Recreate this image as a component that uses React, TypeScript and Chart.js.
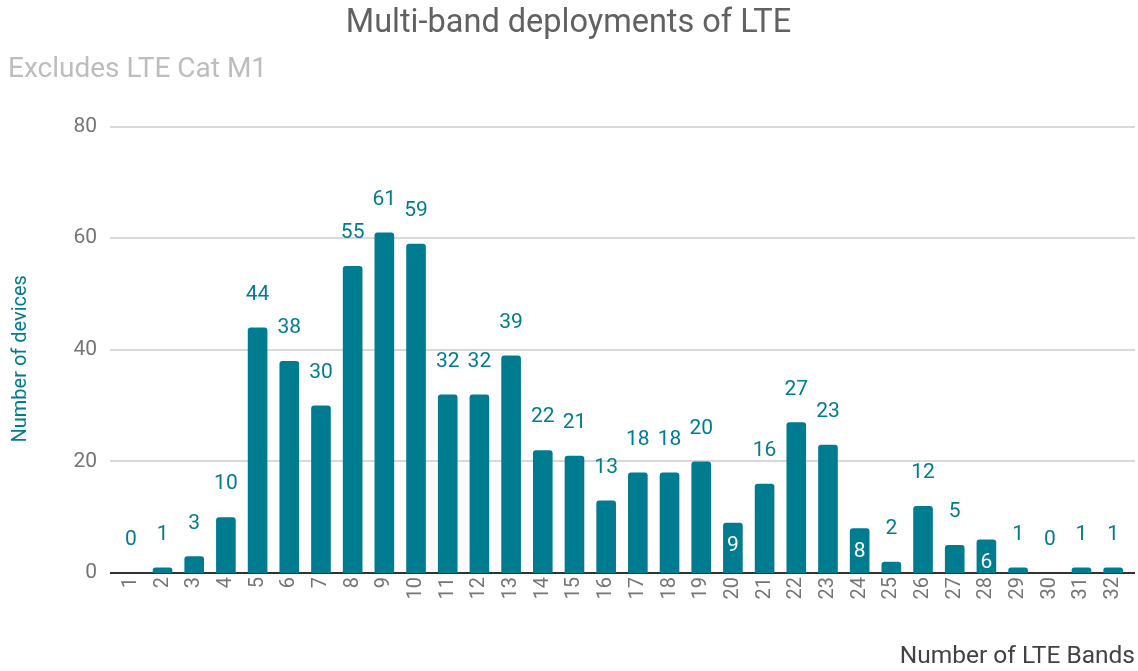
import React, { useEffect, useRef } from "react";
import { Chart, registerables } from "chart.js";

Chart.register(...registerables);

const categories = Array.from({ length: 32 }, (_, i) => String(i + 1));
const devices = [0, 1, 3, 10, 44, 38, 30, 55, 61, 59, 32, 32, 39, 22, 21, 13, 18, 18, 20, 9, 16, 27, 23, 8, 2, 12, 5, 6, 1, 0, 1, 1];
const insideLabelCategories = ["20", "24", "28"];
const yTicks = [0, 20, 40, 60, 80];

const TITLE = "Multi-band deployments of LTE";
const SUBTITLE = "Excludes LTE Cat M1";
const X_TITLE = "Number of LTE Bands";
const Y_TITLE = "Number of devices";

const TEAL = "#007c91";
const FONT = "Roboto";

const decorPlugin = {
  id: "decor",
  beforeDatasetsDraw(chart: any) {
    const ctx = chart.ctx;
    const y = chart.scales.y;
    ctx.save();
    yTicks.forEach((v) => {
      const py = Math.round(y.getPixelForValue(v));
      ctx.beginPath();
      ctx.strokeStyle = v === 0 ? "#333333" : "#cccccc";
      ctx.lineWidth = v === 0 ? 2 : 1.5;
      ctx.moveTo(110, py);
      ctx.lineTo(chart.width - 3, py);
      ctx.stroke();
    });
    ctx.restore();
  },
  afterDraw(chart: any) {
    const ctx = chart.ctx;
    const area = chart.chartArea;
    ctx.save();
    // x-axis title
    ctx.font = `24.5px ${FONT}`;
    ctx.fillStyle = "#424242";
    ctx.textAlign = "right";
    ctx.textBaseline = "middle";
    ctx.fillText(X_TITLE, chart.width - 3, chart.height - 14);
    // y-axis title
    ctx.translate(21, (area.top + area.bottom + 18) / 2);
    ctx.rotate(-Math.PI / 2);
    ctx.font = `20px ${FONT}`;
    ctx.fillStyle = TEAL;
    ctx.textAlign = "center";
    ctx.fillText(Y_TITLE, 0, 0);
    ctx.restore();
  },
};

const labelPlugin = {
  id: "barLabels",
  afterDatasetsDraw(chart: any) {
    const ctx = chart.ctx;
    const meta = chart.getDatasetMeta(0);
    ctx.save();
    ctx.font = `21px ${FONT}`;
    ctx.textAlign = "center";
    ctx.textBaseline = "middle";
    meta.data.forEach((bar: any, i: number) => {
      const v = devices[i];
      const inside = insideLabelCategories.includes(categories[i]);
      if (inside) {
        ctx.fillStyle = "#ffffff";
        ctx.fillText(String(v), bar.x, bar.y + 23);
      } else {
        ctx.fillStyle = TEAL;
        ctx.fillText(String(v), bar.x, bar.y - 33);
      }
    });
    ctx.restore();
  },
};

export default function App() {
  const ref = useRef<HTMLCanvasElement>(null);
  useEffect(() => {
    if (!ref.current) return;
    const chart = new Chart(ref.current, {
      type: "bar",
      data: {
        labels: categories,
        datasets: [
          {
            data: devices,
            backgroundColor: TEAL,
            borderRadius: { topLeft: 3, topRight: 3, bottomLeft: 0, bottomRight: 0 },
            borderSkipped: "bottom",
            barPercentage: 0.62,
            categoryPercentage: 1,
          },
        ],
      },
      options: {
        animation: false,
        responsive: false,
        maintainAspectRatio: false,
        layout: { padding: { left: 8, right: 9, top: 0, bottom: 0 } },
        plugins: {
          legend: { display: false },
          tooltip: { enabled: false },
          title: {
            display: true,
            text: TITLE,
            color: "#616161",
            font: { family: FONT, size: 32.5, weight: "normal" },
            padding: { top: 4, bottom: 4 },
          },
          subtitle: {
            display: true,
            text: SUBTITLE,
            align: "start",
            color: "#bdbdbd",
            font: { family: FONT, size: 28, weight: "normal" },
            padding: { top: 6, bottom: 40 },
          },
        },
        scales: {
          x: {
            grid: { display: false, drawTicks: false },
            border: { display: false },
            ticks: {
              color: "#757575",
              font: { family: FONT, size: 20 },
              maxRotation: 90,
              minRotation: 90,
              padding: 4,
              autoSkip: false,
            },
            afterFit: (scale: any) => {
              scale.height = 98;
              scale.paddingLeft = 0;
              scale.paddingRight = 0;
            },
          },
          y: {
            min: 0,
            max: 80,
            afterBuildTicks: (scale: any) => {
              scale.ticks = yTicks.map((v) => ({ value: v }));
            },
            grid: { display: false, drawTicks: false },
            border: { display: false },
            ticks: {
              color: "#757575",
              font: { family: FONT, size: 21 },
              padding: 18,
            },
            afterFit: (scale: any) => {
              scale.width = 107;
              scale.paddingTop = 0;
              scale.paddingBottom = 0;
            },
          },
        },
      },
      plugins: [decorPlugin, labelPlugin],
    });
    return () => chart.destroy();
  }, []);
  return (
    <div style={{ position: "fixed", left: 0, top: 0, width: 1138, height: 671 }}>
      <canvas ref={ref} width={1138} height={671} style={{ width: 1138, height: 671 }} />
    </div>
  );
}
